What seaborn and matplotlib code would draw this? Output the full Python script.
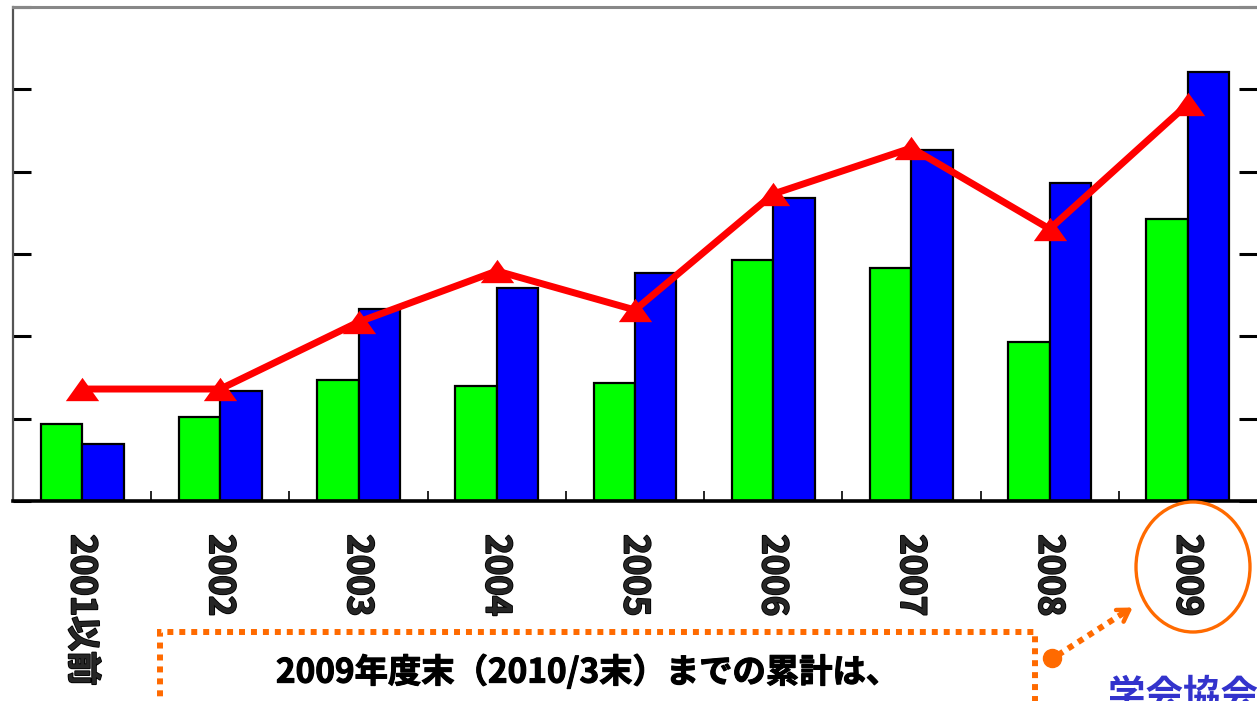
import numpy as np
import pandas as pd
import matplotlib
matplotlib.use("Agg")
import matplotlib.pyplot as plt
import matplotlib.patheffects as pe
from matplotlib.markers import MarkerStyle
from matplotlib.patches import Ellipse, Rectangle, FancyArrowPatch
from matplotlib.lines import Line2D
import seaborn as sns

# ---- data ----
categories = ["2001以前", "2002", "2003", "2004", "2005", "2006", "2007", "2008", "2009"]
green_vals = [93.5, 102, 147, 139.7, 143.3, 292.7, 283, 193.1, 342.5]
blue_vals = [69.2, 133.6, 233.2, 258.7, 276.9, 368, 426.3, 386.2, 521.1]
line_vals = [136, 136, 217.4, 279.4, 232, 372.9, 428.8, 330.4, 482.2]
series_names = ["A", "B"]
y_ticks = [0, 100, 200, 300, 400, 500, 600]
note_text = "2009年度末（2010/3末）までの累計は、"
org_text = "学会協会"

sns.set_style("white")
plt.rcParams["font.family"] = ["Noto Sans CJK JP", "DejaVu Sans"]

W, H = 1257, 701
fig = plt.figure(figsize=(W / 100, H / 100), dpi=100)
ax = fig.add_axes([13 / W, 200 / H, 1244 / W, 494 / H])

df = pd.DataFrame({
    "cat": categories * 2,
    "val": green_vals + blue_vals,
    "series": [series_names[0]] * len(categories) + [series_names[1]] * len(categories),
})
sns.barplot(data=df, x="cat", y="val", hue="series", order=categories,
            hue_order=series_names, palette=["#00ff00", "#0000ff"],
            width=0.6, gap=0, edgecolor="black", linewidth=1.6,
            saturation=1, ax=ax, legend=False, zorder=2)

tri = MarkerStyle([(-1, -0.7), (1, -0.7), (0, 0.7), (-1, -0.7)])
sns.lineplot(x=np.arange(len(categories)), y=line_vals, ax=ax, color="#ff0000",
             linewidth=5, marker=tri, markersize=24, markeredgewidth=0,
             zorder=5)

ax.set_xlim(-0.5, len(categories) - 0.5)
ax.set_ylim(0, 600)
ax.set_xlabel("")
ax.set_ylabel("")

heavy = [pe.withStroke(linewidth=1.3, foreground="black")]

# x axis
ax.set_xticks(range(len(categories)))
ax.set_xticklabels(categories, rotation=-90, ha="center", va="top",
                   fontsize=25, fontweight="bold")
for t in ax.get_xticklabels():
    t.set_path_effects(heavy)
ax.set_xticks(np.arange(0.5, len(categories) - 1, 1.0), minor=True)
ax.tick_params(axis="x", which="major", length=0, pad=24)
ax.tick_params(axis="x", which="minor", direction="in", length=7,
               width=1.2, color="black", bottom=True)

# y axis: inward ticks on both sides, no labels
ax.set_yticks(y_ticks)
ax.tick_params(axis="y", which="major", direction="in", length=13, width=2.2,
               color="black", left=True, right=True, labelleft=False,
               labelright=False)

for s in ["left", "top", "right", "bottom"]:
    ax.spines[s].set_visible(True)
ax.spines["bottom"].set_color("black")
ax.spines["bottom"].set_linewidth(2.6)
ax.spines["left"].set_color("#555555")
ax.spines["left"].set_linewidth(1.6)
ax.spines["top"].set_color("#888888")
ax.spines["top"].set_linewidth(2.2)
ax.spines["right"].set_visible(False)

orange = "#ff6a00"
tf = fig.transFigure

def fx(px):
    return px / W

def fy(py):
    return 1 - py / H

# dotted note box
box = Rectangle((fx(160), fy(760)), fx(1035) - fx(160), fy(632) - fy(760),
                transform=tf, fill=False, edgecolor=orange, linewidth=4.3,
                linestyle=(0, (1, 1)), clip_on=False)
fig.add_artist(box)
note = fig.text(fx(588), fy(672), note_text, ha="center", va="center",
                fontsize=24, fontweight="bold", color="black")
note.set_path_effects([pe.withStroke(linewidth=0.8, foreground="black")])

# ellipse around 2009
ell = Ellipse((fx(1193), fy(567)), 114 / W, 130 / H, transform=tf,
              fill=False, edgecolor=orange, linewidth=2.4)
fig.add_artist(ell)

# dot and dotted arrow
fig.add_artist(Line2D([fx(1052)], [fy(658)], marker="o", markersize=13,
                      color=orange, transform=tf))
fig.add_artist(Line2D([fx(1058), fx(1125)], [fy(655), fy(612)],
                      color=orange, linewidth=4.3, linestyle=(0, (1, 1)),
                      transform=tf))
fig.add_artist(FancyArrowPatch((fx(1118), fy(617)), (fx(1135), fy(606)),
                               transform=tf, arrowstyle="->,head_length=8,head_width=5",
                               color=orange, linewidth=3.2))

fig.text(fx(1108), fy(676), org_text, ha="left", va="top", fontsize=27,
         fontweight="bold", color="#3333cc")

fig.savefig("out.png", dpi=100, facecolor="white")
